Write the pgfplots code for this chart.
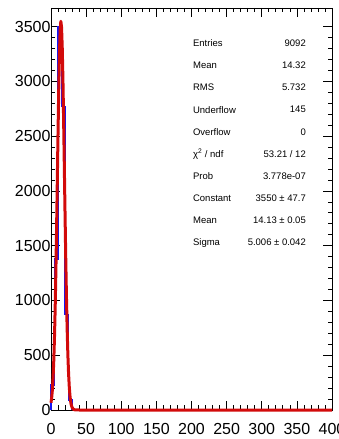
\documentclass[border=0pt]{standalone}
\usepackage{fontspec}
\setmainfont{Liberation Sans}
\usepackage{pgfplots}
\pgfplotsset{compat=1.18}
\definecolor{rootred}{RGB}{210,10,10}
\definecolor{rootblue}{RGB}{20,20,245}
\newcommand{\statrow}[3]{%
  \node[anchor=west, inner sep=0pt, font=\fontsize{9.5}{11}\selectfont] at (rel axis cs:0.505,#1) {#2};
  \node[anchor=east, inner sep=0pt, font=\fontsize{9.5}{11}\selectfont] at (rel axis cs:0.9075,#1) {#3};
}
\begin{document}
\begin{tikzpicture}
\begin{axis}[
  scale only axis,
  width=281pt, height=402pt,
  xmin=0, xmax=400, ymin=0, ymax=3670,
  xtick={0,50,...,400}, ytick={0,500,...,3500},
  minor x tick num=4, minor y tick num=4,
  tick align=inside,
  major tick length=9pt, minor tick length=4.5pt,
  axis line style={line width=0.8pt},
  every tick/.style={black, line width=0.7pt},
  /pgf/number format/assume math mode=true,
  /pgf/number format/1000 sep={},
  tick label style={font=\fontsize{16}{19}\selectfont},
  yticklabel style={xshift=3pt},
  xticklabel style={yshift=-13pt, inner sep=0pt, anchor=north},
  clip=false,
]
% histogram (bin width 5)
\addplot[const plot mark left, rootblue, line width=1.5pt] coordinates {
  (0,0) (0,230) (5,1380) (10,3500) (15,2770) (20,870) (25,90) (30,5) (35,0) (400,0)
};
% gaussian fit
\addplot[rootred, line width=3pt, line join=round] coordinates {
  (0,66) (1,114) (2,188) (3,300) (4,458) (5,673) (6,949) (7,1288) (8,1677) (9,2100)
  (10,2526) (11,2919) (12,3243) (13,3461) (14,3549) (15,3497) (16,3311) (17,3012)
  (18,2633) (19,2212) (20,1785) (21,1384) (22,1032) (23,739) (24,508) (25,336)
  (26,213) (27,130) (28,76) (29,43) (30,23) (32,6) (34,1.3) (36,0.3) (40,0) (400,0)
};
% statistics box
\statrow{0.9122}{Entries}{9092}
\statrow{0.8571}{Mean}{14.32}
\statrow{0.8020}{RMS}{5.732}
\statrow{0.7469}{Underflow}{145}
\statrow{0.6918}{Overflow}{0}
\statrow{0.6367}{χ\textsuperscript{2} / ndf}{53.21 / 12}
\statrow{0.5816}{Prob}{3.778e-07}
\statrow{0.5265}{Constant}{3550 ± 47.7}
\statrow{0.4714}{Mean}{14.13 ± 0.05}
\statrow{0.4163}{Sigma}{5.006 ± 0.042}
\end{axis}
\pgfresetboundingbox
\path[use as bounding box] ([xshift=-51pt,yshift=-29pt]current axis.south west) rectangle ([xshift=6pt,yshift=8pt]current axis.north east);
\end{tikzpicture}
\end{document}
